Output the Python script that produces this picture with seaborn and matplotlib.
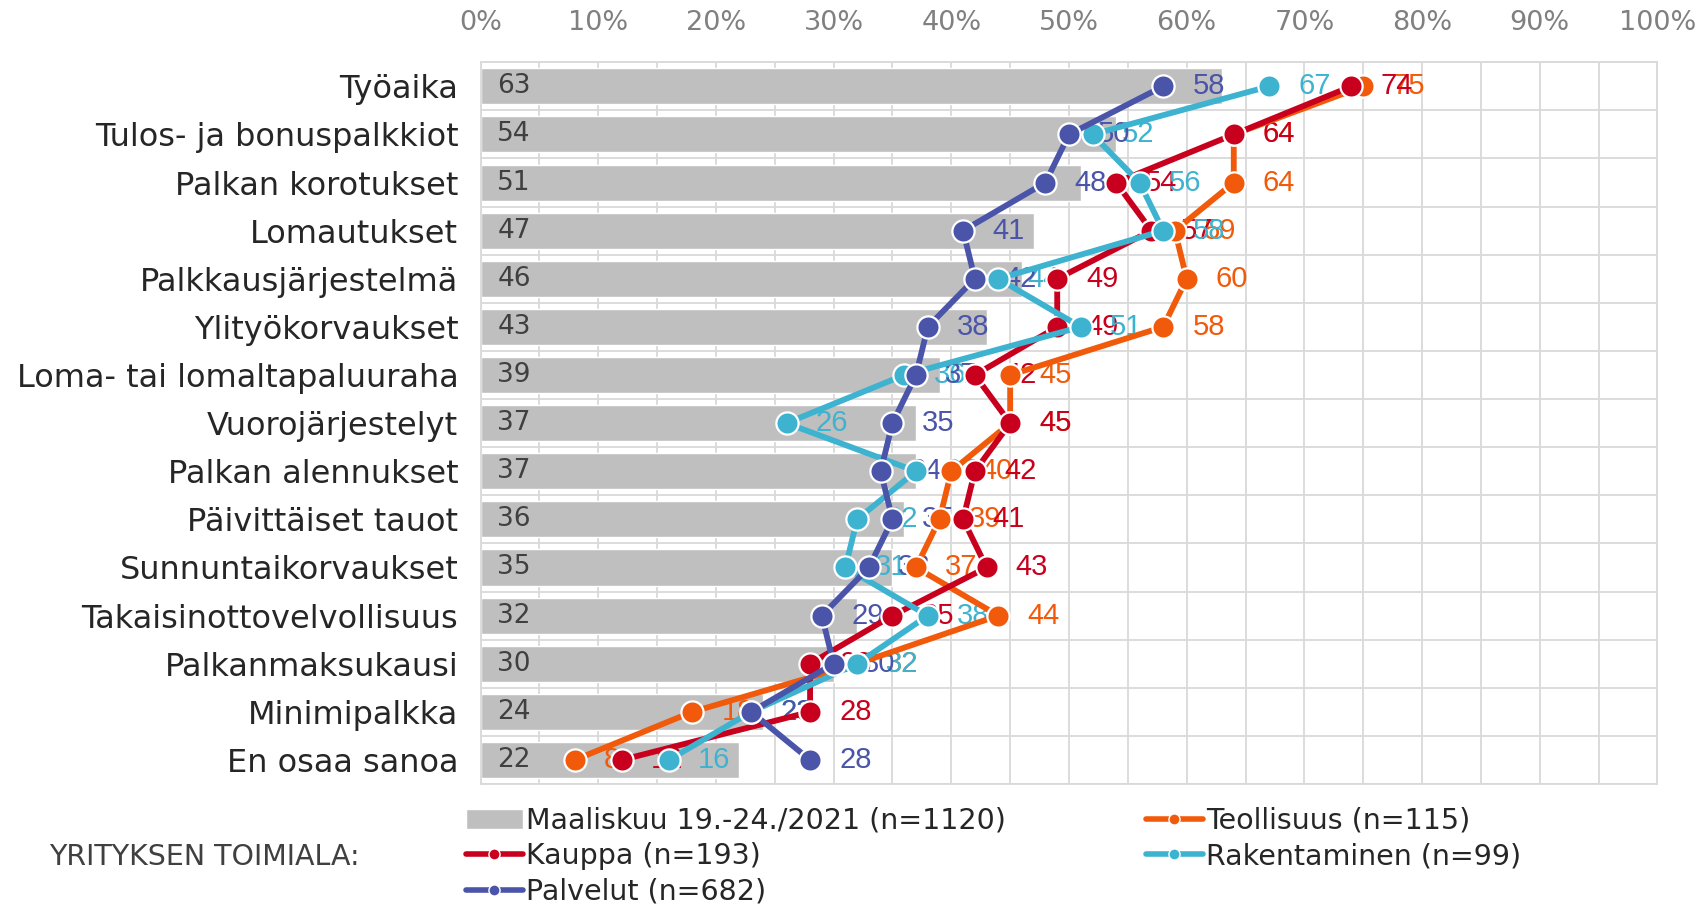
import numpy as np
import pandas as pd
import matplotlib
matplotlib.use('Agg')
import matplotlib.pyplot as plt
import seaborn as sns
from matplotlib.lines import Line2D
from matplotlib.patches import Patch
from matplotlib.ticker import MultipleLocator, FuncFormatter

# data
categories = ["Työaika", "Tulos- ja bonuspalkkiot", "Palkan korotukset", "Lomautukset",
              "Palkkausjärjestelmä", "Ylityökorvaukset", "Loma- tai lomaltapaluuraha",
              "Vuorojärjestelyt", "Palkan alennukset", "Päivittäiset tauot",
              "Sunnuntaikorvaukset", "Takaisinottovelvollisuus", "Palkanmaksukausi",
              "Minimipalkka", "En osaa sanoa"]
total = [63, 54, 51, 47, 46, 43, 39, 37, 37, 36, 35, 32, 30, 24, 22]
teollisuus = [75, 64, 64, 59, 60, 58, 45, 45, 40, 39, 37, 44, 32, 18, 8]
kauppa = [74, 64, 54, 57, 49, 49, 42, 45, 42, 41, 43, 35, 28, 28, 12]
rakentaminen = [67, 52, 56, 58, 44, 51, 36, 26, 37, 32, 31, 38, 32, 23, 16]
palvelut = [58, 50, 48, 41, 42, 38, 37, 35, 34, 35, 33, 29, 30, 23, 28]

bar_label = "Maaliskuu 19.-24./2021 (n=1120)"
series_names = ["Teollisuus (n=115)", "Kauppa (n=193)", "Rakentaminen (n=99)", "Palvelut (n=682)"]
series_vals = [teollisuus, kauppa, rakentaminen, palvelut]
series_cols = ["#F15A0A", "#C8001E", "#3DB3D0", "#4A54A8"]

sns.set_style("white")
plt.rcParams['font.family'] = ['DejaVu Sans']

fig = plt.figure(figsize=(17.01, 9.09), dpi=100)
ax = fig.add_axes([0.2825, 0.1375, 0.6919, 0.794])

df_bar = pd.DataFrame({'cat': categories, 'val': total})
sns.barplot(data=df_bar, x='val', y='cat', color='#BFBFBF', width=0.75,
            saturation=1, ax=ax, zorder=2)

rows = []
for name, vals in zip(series_names, series_vals):
    for i, v in enumerate(vals):
        rows.append({'series': name, 'pos': i, 'val': v})
df_lines = pd.DataFrame(rows)

sns.lineplot(data=df_lines, x='val', y='pos', hue='series', hue_order=series_names,
             palette=series_cols, orient='y', sort=False, estimator=None,
             marker='o', markersize=16, markeredgecolor='white', markeredgewidth=1.6,
             linewidth=4.2, legend=False, ax=ax)
for k, ln in enumerate(ax.get_lines()):
    ln.set_zorder(3 + k)

# labels
for i, v in enumerate(total):
    ax.annotate(str(v), xy=(0, i), xytext=(12, 0), textcoords='offset points',
                ha='left', va='center', fontsize=19, color='#404040', zorder=9)
for k, (vals, c) in enumerate(zip(series_vals, series_cols)):
    for i, v in enumerate(vals):
        ax.annotate(str(v), xy=(v, i), xytext=(21, 0), textcoords='offset points',
                    ha='left', va='center', fontsize=21, color=c,
                    family='Liberation Sans', zorder=10 + k)

ax.set_xlim(0, 100)
ax.set_ylim(14.5, -0.5)
ax.set_xlabel('')
ax.set_ylabel('')
ax.xaxis.tick_top()
ax.xaxis.set_major_locator(MultipleLocator(10))
ax.xaxis.set_minor_locator(MultipleLocator(5))
ax.xaxis.set_major_formatter(FuncFormatter(lambda x, p: f"{x:.0f}%"))
ax.tick_params(axis='x', which='both', length=0, pad=19, labelsize=19.5, labelcolor='#808080')
ax.set_yticks(range(len(categories)))
ax.set_yticklabels(categories)
ax.set_yticks(np.arange(-0.5, len(categories), 1), minor=True)
ax.tick_params(axis='y', which='both', length=0, pad=16, labelsize=23, labelcolor='#262626')
ax.grid(which='minor', color='#D9D9D9', linewidth=1.3)
ax.grid(which='major', axis='x', color='#D9D9D9', linewidth=1.3)
ax.set_axisbelow(True)
for s in ax.spines.values():
    s.set_color('#D9D9D9')
    s.set_linewidth(1.3)

handles = [Patch(facecolor='#BFBFBF')]
labels = [bar_label]
order = [1, 3, 0, 2]
for k in order:
    handles.append(Line2D([], [], color=series_cols[k], lw=4, marker='o', markersize=8,
                          markeredgecolor='white', markeredgewidth=1))
    labels.append(series_names[k])
fig.legend(handles, labels, ncol=2, loc='upper left', bbox_to_anchor=(466 / 1701, 1 - 807 / 909),
           frameon=False, handlelength=2.0, handletextpad=0.12,
           columnspacing=4.9, labelspacing=0.26, borderpad=0, borderaxespad=0,
           prop={'family': 'DejaVu Sans', 'size': 20.5})
fig.text(49 / 1701, 1 - 857 / 909, "YRITYKSEN TOIMIALA:", fontsize=20.5, color='#404040',
         ha='left', va='center')

fig.savefig('out.png', dpi=100)
